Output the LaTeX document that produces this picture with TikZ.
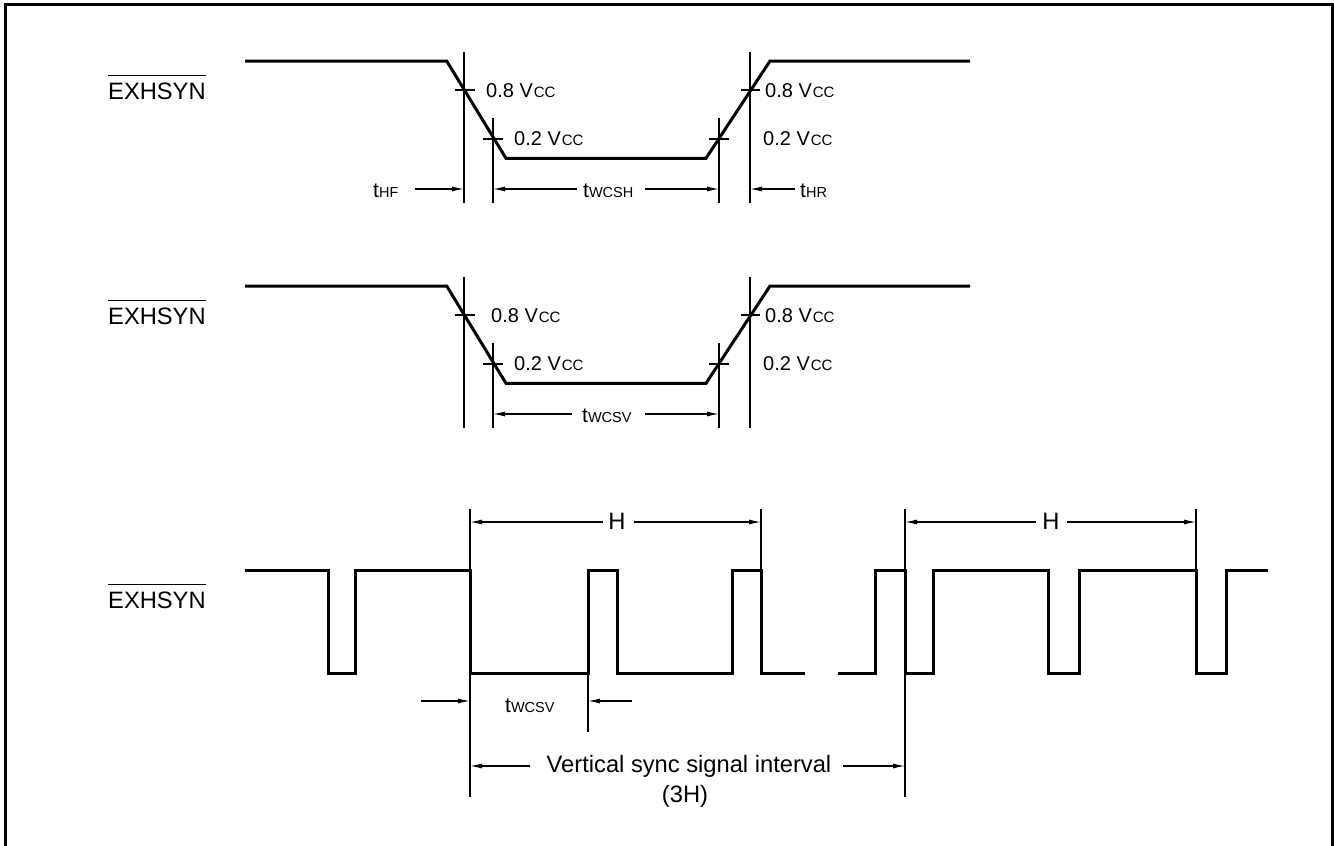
\documentclass[tikz,border=0pt]{standalone}
\usepackage{fontspec}
\setmainfont{Liberation Sans}
\usetikzlibrary{arrows.meta}
\newcommand{\vcc}{\kern1pt{\fontsize{15}{15}\selectfont CC}}
\newcommand{\tsb}[1]{{\fontsize{14.5}{14.5}\selectfont #1}}
\begin{document}
\begin{tikzpicture}[x=1pt,y=-1pt,
  wave/.style={line width=3pt, line join=miter},
  thinln/.style={line width=1.2pt},
  dimarr/.style={line width=1.2pt,-{Latex[length=12pt,width=5pt]}},
  big/.style={font=\fontsize{23.7}{27}\selectfont, inner sep=0pt},
  volt/.style={font=\fontsize{20}{24}\selectfont, inner sep=0pt, anchor=base west},
  tl/.style={font=\fontsize{21}{24}\selectfont, inner sep=0pt, anchor=base west}]
\useasboundingbox (0,0) rectangle (1334,846);
% frame (open at the bottom)
\draw[line width=3pt] (5.5,846) -- (5.5,4.5) -- (1332,4.5) -- (1332,846);

% ---------- signal labels ----------
\foreach \n/\b in {s1/99, s2/324, s3/608}{
  \node[big, anchor=base west] (\n) at (108,\b) {EXHSYN};
  \draw[thinln] ([yshift=6.5pt]\n.north west) -- ([yshift=6.5pt]\n.north east);
}

% ---------- row 1 ----------
\draw[wave] (245,61) -- (446.7,61) -- (506,158.3) -- (706,158.3) -- (770,61) -- (970,61);
\draw[thinln] (464,52) -- (464,203);
\draw[thinln] (493,118) -- (493,203);
\draw[thinln] (719,118) -- (719,203);
\draw[thinln] (750,52) -- (750,203);
\draw[thinln] (455,90) -- (475,90);
\draw[thinln] (483,139) -- (503,139);
\draw[thinln] (709,139) -- (729,139);
\draw[thinln] (741,90) -- (760,90);
\node[volt] (a81) at (486,97) {0.8 V\vcc};
\node[volt] (a21) at (514,145) {0.2 V\vcc};
\node[volt] (a81r) at (765,97) {0.8 V\vcc};
\node[volt] (a21r) at (763,145) {0.2 V\vcc};
\node[tl] (thf) at (373,197) {t\tsb{HF}};
\node[tl] (twh) at (583,197) {t\tsb{WCSH}};
\node[tl] (thr) at (800,197) {t\tsb{HR}};
\coordinate (p1) at (415,189); \coordinate (q1) at (464,189);
\coordinate (p2) at (577,189); \coordinate (q2) at (493,189);
\coordinate (p3) at (645,189); \coordinate (q3) at (719,189);
\coordinate (p4) at (795,189); \coordinate (q4) at (750,189);
\draw[dimarr] (p1) -- (q1);
\draw[dimarr] (p2) -- (q2);
\draw[dimarr] (p3) -- (q3);
\draw[dimarr] (p4) -- (q4);

% ---------- row 2 ----------
\draw[wave] (245,286) -- (446.7,286) -- (506,383.3) -- (706,383.3) -- (770,286) -- (970,286);
\draw[thinln] (464,277) -- (464,428);
\draw[thinln] (493,343) -- (493,428);
\draw[thinln] (719,343) -- (719,428);
\draw[thinln] (750,277) -- (750,428);
\draw[thinln] (455,315) -- (475,315);
\draw[thinln] (483,364) -- (503,364);
\draw[thinln] (709,364) -- (729,364);
\draw[thinln] (741,315) -- (760,315);
\node[volt] (b81) at (491,322) {0.8 V\vcc};
\node[volt] (b21) at (514,370) {0.2 V\vcc};
\node[volt] (b81r) at (765,322) {0.8 V\vcc};
\node[volt] (b21r) at (763,370) {0.2 V\vcc};
\node[tl] (twv) at (582,422) {t\tsb{WCSV}};
\coordinate (p5) at (572,414); \coordinate (q5) at (493,414);
\coordinate (p6) at (645,414); \coordinate (q6) at (719,414);
\draw[dimarr] (p5) -- (q5);
\draw[dimarr] (p6) -- (q6);

% ---------- row 3 ----------
\draw[wave] (245,570) -| (328,673) -| (355,570) -| (470,673) -| (588,570) -| (617,673)
  -| (732,570) -| (761,673) -- (805,673);
\draw[wave] (838,673) -| (875,570) -| (905,673) -| (933,570) -| (1048,673) -| (1079,570)
  -| (1196,673) -| (1226,570) -- (1268,570);
\draw[thinln] (470,509) -- (470,797);
\draw[thinln] (761,509) -- (761,570);
\draw[thinln] (905,509) -- (905,797);
\draw[thinln] (1196,509) -- (1196,570);
\draw[thinln] (588,673) -- (588,732);

\node[big, anchor=base] (h1) at (617,529) {H};
\node[big, anchor=base] (h2) at (1051,529) {H};
\coordinate (hl1) at (603,522); \coordinate (hl1e) at (470,522);
\coordinate (hr1) at (634,522); \coordinate (hr1e) at (761,522);
\coordinate (hl2) at (1036,522); \coordinate (hl2e) at (905,522);
\coordinate (hr2) at (1067,522); \coordinate (hr2e) at (1196,522);
\draw[dimarr] (hl1) -- (hl1e);
\draw[dimarr] (hr1) -- (hr1e);
\draw[dimarr] (hl2) -- (hl2e);
\draw[dimarr] (hr2) -- (hr2e);

\node[tl] (twv3) at (505,712) {t\tsb{WCSV}};
\coordinate (w1) at (421,701); \coordinate (w1e) at (470,701);
\coordinate (w2) at (632,701); \coordinate (w2e) at (588,701);
\draw[dimarr] (w1) -- (w1e);
\draw[dimarr] (w2) -- (w2e);

\node[big, anchor=base] (vs) at (689,772) {Vertical sync signal interval};
\node[big, anchor=base] (vs3) at (685,802) {(3H)};
\coordinate (vl) at (530,766); \coordinate (vle) at (470,766);
\coordinate (vr) at (843,766); \coordinate (vre) at (905,766);
\draw[dimarr] (vl) -- (vle);
\draw[dimarr] (vr) -- (vre);
\end{tikzpicture}
\end{document}
